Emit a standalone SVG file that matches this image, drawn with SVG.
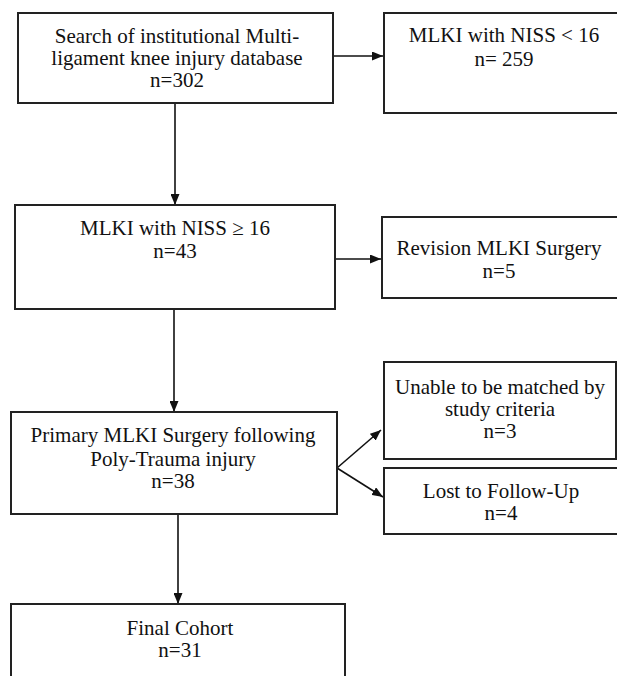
<svg xmlns="http://www.w3.org/2000/svg" width="617" height="676" viewBox="0 0 617 676">
<style>
.box{fill:#fff;stroke:#222;stroke-width:2}
.t{font-family:"Liberation Serif","Times New Roman",serif;font-size:21px;fill:#111;text-anchor:middle}
.c{stroke:#111;stroke-width:1.6;fill:none}
</style>
<defs>
<marker id="ah" viewBox="0 0 11 9" refX="11" refY="4.5" markerWidth="11" markerHeight="9" markerUnits="userSpaceOnUse" orient="auto">
<path d="M0,0 L11,4.5 L0,9 Z" fill="#111"/>
</marker>
</defs>
<rect width="617" height="676" fill="#fff"/>
<g id="connectors">
<line class="c" x1="334" y1="56" x2="383" y2="56" marker-end="url(#ah)"/>
<line class="c" x1="175" y1="104" x2="175" y2="205" marker-end="url(#ah)"/>
<line class="c" x1="336" y1="259" x2="381" y2="259" marker-end="url(#ah)"/>
<line class="c" x1="174" y1="310" x2="174" y2="412" marker-end="url(#ah)"/>
<line class="c" x1="337" y1="468" x2="381" y2="430" marker-end="url(#ah)"/>
<line class="c" x1="337" y1="468" x2="383" y2="497" marker-end="url(#ah)"/>
<line class="c" x1="178" y1="515" x2="178" y2="604" marker-end="url(#ah)"/>
</g>
<g id="search">
<rect class="box" x="18" y="13" width="315" height="90"/>
<text class="t" x="177" y="43">Search of institutional Multi-</text>
<text class="t" x="177" y="65">ligament knee injury database</text>
<text class="t" x="177" y="87">n=302</text>
</g>
<g id="niss-lt16">
<rect class="box" x="384" y="13" width="240" height="100"/>
<text class="t" x="504" y="42">MLKI with NISS &lt; 16</text>
<text class="t" x="504" y="66">n= 259</text>
</g>
<g id="niss-ge16">
<rect class="box" x="15" y="205" width="320" height="104"/>
<text class="t" x="175" y="235">MLKI with NISS ≥ 16</text>
<text class="t" x="175" y="258">n=43</text>
</g>
<g id="revision">
<rect class="box" x="382" y="217" width="240" height="81"/>
<text class="t" x="499" y="255">Revision MLKI Surgery</text>
<text class="t" x="499" y="278">n=5</text>
</g>
<g id="primary">
<rect class="box" x="11" y="412" width="326" height="102"/>
<text class="t" x="173" y="442">Primary MLKI Surgery following</text>
<text class="t" x="173" y="466">Poly-Trauma injury</text>
<text class="t" x="173" y="488">n=38</text>
</g>
<g id="unable">
<rect class="box" x="384" y="362" width="232" height="97"/>
<text class="t" x="500" y="394">Unable to be matched by</text>
<text class="t" x="500" y="416">study criteria</text>
<text class="t" x="500" y="438">n=3</text>
</g>
<g id="lost">
<rect class="box" x="384" y="468" width="240" height="66"/>
<text class="t" x="501" y="498">Lost to Follow-Up</text>
<text class="t" x="501" y="520">n=4</text>
</g>
<g id="final">
<rect class="box" x="11" y="604" width="334" height="90"/>
<text class="t" x="180" y="635">Final Cohort</text>
<text class="t" x="180" y="657">n=31</text>
</g>
</svg>
